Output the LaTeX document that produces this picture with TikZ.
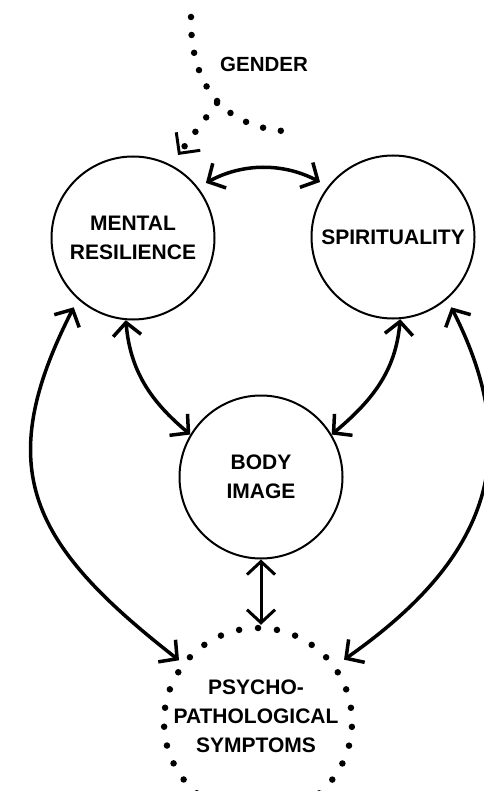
\documentclass[tikz,border=0pt]{standalone}
\usepackage{fontspec}
\setmainfont{Liberation Sans}
\usetikzlibrary{arrows.meta}
\begin{document}
\begin{tikzpicture}[x=1pt,y=1pt,font=\bfseries,>={Straight Barb[length=13pt,width=28pt]}]
\tikzset{
  construct/.style={circle,draw,line width=2pt,minimum size=163pt,inner sep=1pt,align=center,font=\bfseries\fontsize{21}{29}\selectfont},
  latent/.style={circle,draw,line width=6.5pt,line cap=round,dash pattern=on 0pt off 19.05pt,dash phase=4.76pt,minimum size=188pt,inner sep=0pt},
  caption/.style={align=center,font=\bfseries\fontsize{21}{29}\selectfont},
  link/.style={line width=3.5pt,<->},
  trail/.style={line width=6.5pt,line cap=round,dash pattern=on 0pt off 18pt}
}
\useasboundingbox (0,0) rectangle (483,-791);
\node[construct] (res) at (133,-238) {MENTAL\\RESILIENCE};
\node[construct] (spi) at (393,-237) {SPIRITUALITY};
\node[construct] (body) at (261,-477) {BODY\\IMAGE};
\node[latent] (sym) at (258,-722) {};
\node[caption] (symtext) at (256,-716) {PSYCHO-\\PATHOLOGICAL\\SYMPTOMS};
\node[caption,font=\bfseries\fontsize{20.5}{24}\selectfont] (gender) at (264,-64) {GENDER};

\coordinate (gtop) at (191,-17);
\coordinate (gfork) at (217,-103);
\coordinate (gend) at (283,-131);
\coordinate (gtip) at (178,-155);
\draw[trail] (gtop) .. controls (190,-75) and (215,-125) .. (gend);
\draw[trail,-{Straight Barb[length=15pt,width=30pt,line width=3pt]}] (gfork) -- (gtip);

\draw[link,shorten <=9pt,shorten >=9pt] (res.38) to[bend left=28] (spi.142);
\draw[link] (res.265) to[out=275,in=140] (body.149);
\draw[link] (spi.275) to[out=265,in=40] (body.31);
\draw[link,shorten <=9pt,shorten >=3pt] (res.228) to[out=243,in=142,looseness=1.3] (sym.142);
\draw[link,shorten <=9pt,shorten >=9pt] (spi.311) to[out=297,in=35,looseness=1.2] (sym.36);
\draw[link,line width=3pt] (body.south) -- (body.south |- sym.north);
\end{tikzpicture}
\end{document}
